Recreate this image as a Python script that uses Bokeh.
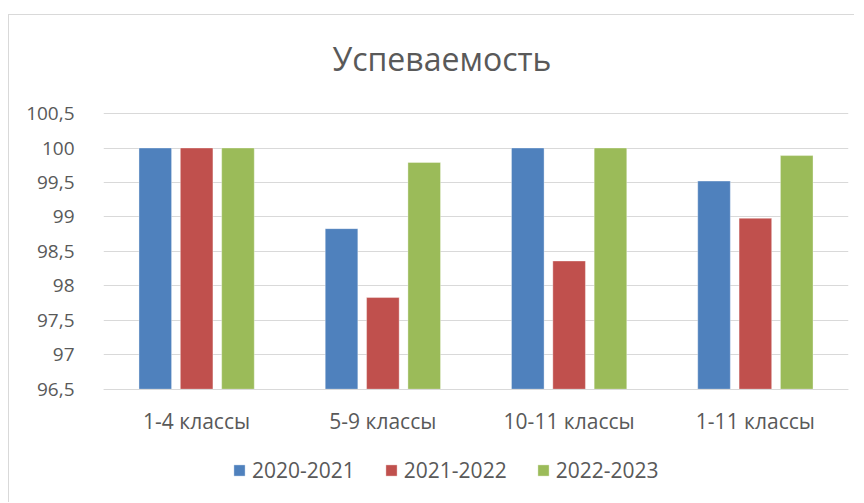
from bokeh.plotting import figure
from bokeh.models import (ColumnDataSource, FactorRange, Range1d, FixedTicker,
                          CustomJSTickFormatter, Legend, LegendItem, Label)
from bokeh.transform import dodge
from bokeh.embed import file_html
from bokeh.resources import INLINE

title_text = "Успеваемость"
categories = ["1-4 классы", "5-9 классы", "10-11 классы", "1-11 классы"]
series_names = ["2020-2021", "2021-2022", "2022-2023"]
v_2020_2021 = [100, 98.83, 100, 99.52]
v_2021_2022 = [100, 97.83, 98.36, 98.98]
v_2022_2023 = [100, 99.79, 100, 99.89]
y_ticks = [96.5, 97, 97.5, 98, 98.5, 99, 99.5, 100, 100.5]
colors = ["#4f81bd", "#c0504d", "#9bbb59"]

source = ColumnDataSource(data=dict(cat=categories, a=v_2020_2021, b=v_2021_2022, c=v_2022_2023))

FONT = "Open Sans"
TXT = "#595959"

# the plotting frame spans the whole chart box; the value axis shows 96.5..100.5
p = figure(x_range=FactorRange(factors=categories, range_padding=0),
           y_range=Range1d(94.957, 101.923),
           width=846, height=488, output_backend="svg", toolbar_location=None,
           min_border_left=94, min_border_right=7, min_border_top=0, min_border_bottom=8)
p.margin = (14, 0, 0, 8)
p.styles = {"border-top": "1px solid #d9d9d9", "border-left": "1px solid #d9d9d9"}

p.add_layout(Label(x=1.817, y=101.3, text=title_text, text_align="center",
                   text_baseline="alphabetic", text_font=FONT, text_font_size="32px",
                   text_color=TXT))

renderers = []
for col, off, color in zip(["a", "b", "c"], [-0.222, 0.0, 0.222], colors):
    r = p.vbar(x=dodge("cat", off, range=p.x_range), top=col, bottom=96.5, width=0.175,
               source=source, fill_color=color, line_color="white", line_alpha=0.35, line_width=1)
    renderers.append(r)

p.outline_line_color = None
p.xgrid.grid_line_color = None
p.ygrid.grid_line_color = "#d9d9d9"
p.ygrid.grid_line_width = 1

p.yaxis.ticker = FixedTicker(ticks=y_ticks)
p.yaxis.formatter = CustomJSTickFormatter(code="return tick.toString().replace('.', ',')")
p.yaxis.axis_line_color = None
p.yaxis.major_tick_line_color = None
p.yaxis.minor_tick_line_color = None
p.yaxis.major_label_text_font = FONT
p.yaxis.major_label_text_font_size = "19px"
p.yaxis.major_label_text_color = TXT
p.yaxis.major_label_standoff = 23

p.xaxis.fixed_location = 96.5
p.xaxis.axis_line_color = "#d9d9d9"
p.xaxis.major_tick_line_color = None
p.xaxis.minor_tick_line_color = None
p.xaxis.major_label_text_font = FONT
p.xaxis.major_label_text_font_size = "21px"
p.xaxis.major_label_text_color = TXT
p.xaxis.major_label_standoff = 12

legend = Legend(items=[LegendItem(label=n, renderers=[r]) for n, r in zip(series_names, renderers)],
                orientation="horizontal", location=(129, 11),
                glyph_width=14, glyph_height=14, label_standoff=6, spacing=29, padding=0,
                label_text_font=FONT, label_text_font_size="21px", label_text_color=TXT,
                border_line_color=None, background_fill_alpha=0)
p.add_layout(legend, "center")

open("out.html", "w").write(file_html(p, INLINE))
